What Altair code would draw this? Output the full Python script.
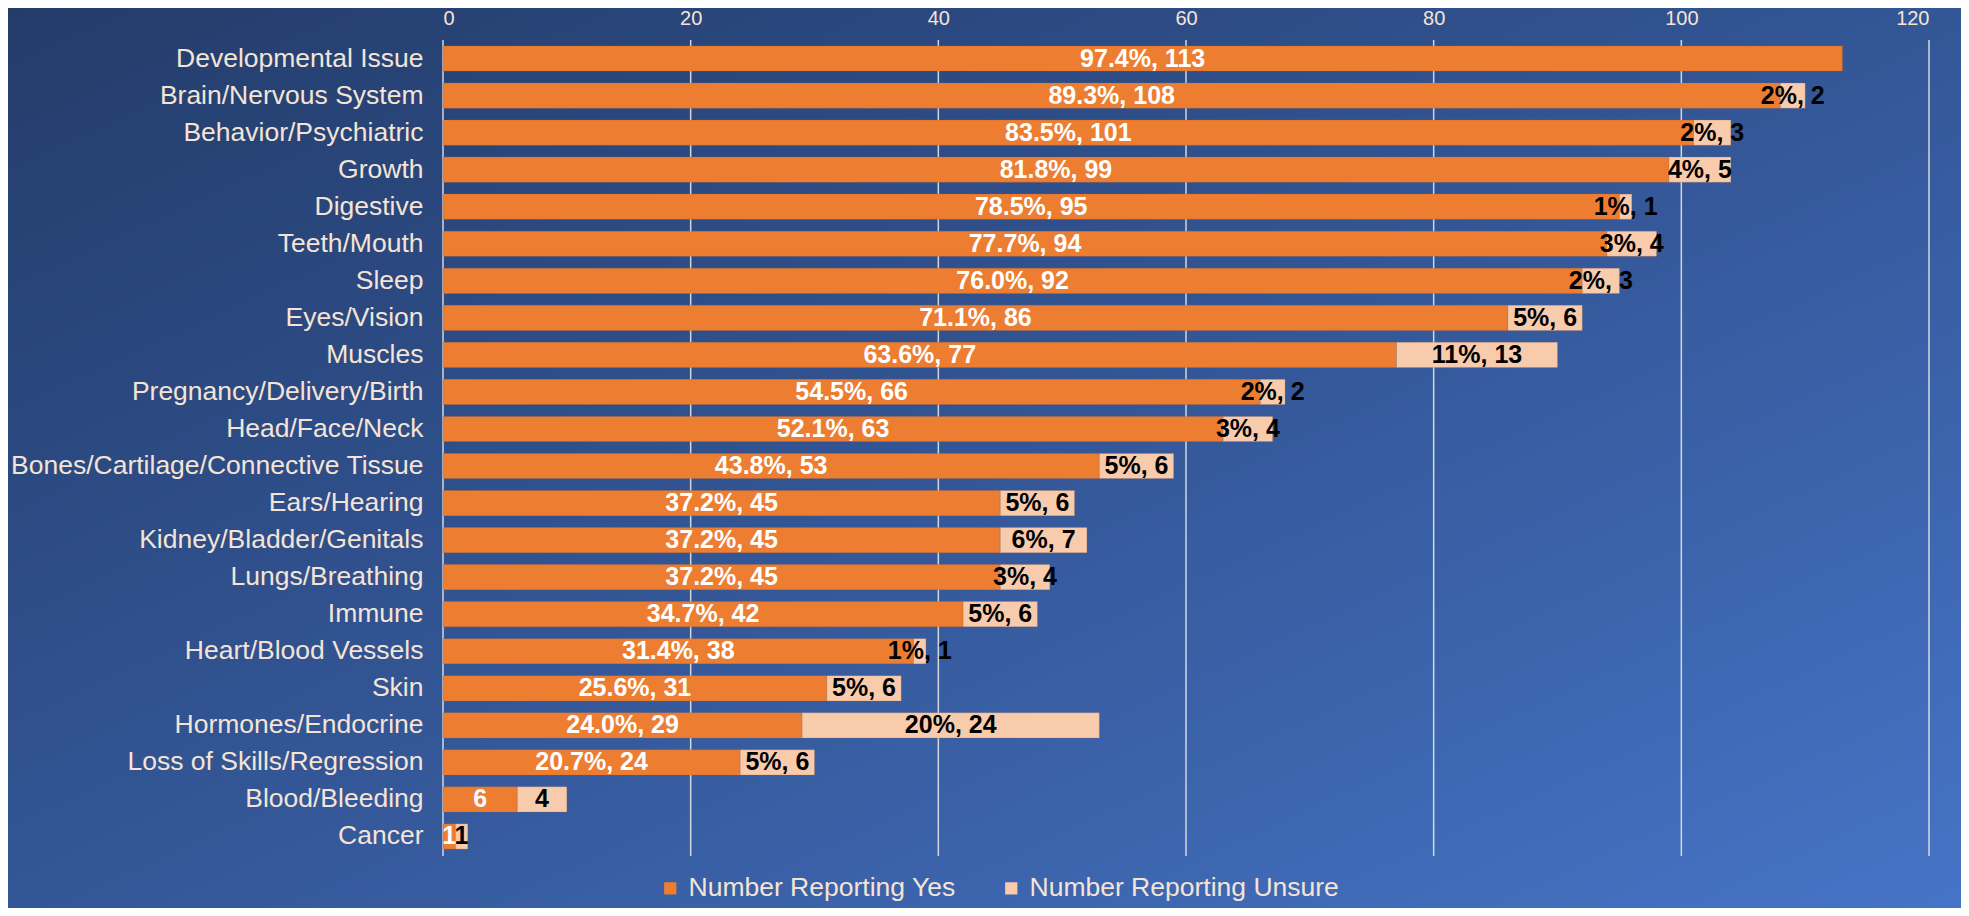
import altair as alt
import pandas as pd

categories = [
    "Developmental Issue", "Brain/Nervous System", "Behavior/Psychiatric", "Growth",
    "Digestive", "Teeth/Mouth", "Sleep", "Eyes/Vision", "Muscles",
    "Pregnancy/Delivery/Birth", "Head/Face/Neck", "Bones/Cartilage/Connective Tissue",
    "Ears/Hearing", "Kidney/Bladder/Genitals", "Lungs/Breathing", "Immune",
    "Heart/Blood Vessels", "Skin", "Hormones/Endocrine", "Loss of Skills/Regression",
    "Blood/Bleeding", "Cancer",
]
yes_values = [113, 108, 101, 99, 95, 94, 92, 86, 77, 66, 63, 53, 45, 45, 45, 42, 38, 31, 29, 24, 6, 1]
unsure_values = [0, 2, 3, 5, 1, 4, 3, 6, 13, 2, 4, 6, 6, 7, 4, 6, 1, 6, 24, 6, 4, 1]
yes_labels = [
    "97.4%, 113", "89.3%, 108", "83.5%, 101", "81.8%, 99", "78.5%, 95", "77.7%, 94",
    "76.0%, 92", "71.1%, 86", "63.6%, 77", "54.5%, 66", "52.1%, 63", "43.8%, 53",
    "37.2%, 45", "37.2%, 45", "37.2%, 45", "34.7%, 42", "31.4%, 38", "25.6%, 31",
    "24.0%, 29", "20.7%, 24", "6", "1",
]
unsure_labels = [
    "", "2%, 2", "2%, 3", "4%, 5", "1%, 1", "3%, 4", "2%, 3", "5%, 6", "11%, 13",
    "2%, 2", "3%, 4", "5%, 6", "5%, 6", "6%, 7", "3%, 4", "5%, 6", "1%, 1", "5%, 6",
    "20%, 24", "5%, 6", "4", "1",
]
series_names = ["Number Reporting Yes", "Number Reporting Unsure"]
series_colors = ["#ED7D31", "#F8CBAD"]
x_ticks = [0, 20, 40, 60, 80, 100, 120]

df = pd.DataFrame({
    "cat": categories,
    "yes": yes_values,
    "unsure": unsure_values,
    "ylab": yes_labels,
    "ulab": unsure_labels,
})
ticks_df = pd.DataFrame({"t": x_ticks})

PW, PH = 1486, 815
PAD = {"left": 435, "right": 32, "top": 32, "bottom": 53}
TXT = "#F5E4D6"
FONT = "Liberation Sans, Arial, sans-serif"

y_enc = alt.Y(
    "cat:N", sort=categories, title=None,
    scale=alt.Scale(paddingInner=0.32, paddingOuter=0.16),
    axis=alt.Axis(domain=False, ticks=False, labelFontSize=26.5, labelColor=TXT,
                  labelFont=FONT, labelPadding=20, labelLimit=500, zindex=2),
)
x_scale = alt.Scale(domain=[0, 120], nice=False)

bg = alt.Chart(alt.Data(values=[{"a": 1}])).mark_rect(
    color=alt.LinearGradient(
        gradient="linear", x1=0, y1=0, x2=1, y2=1,
        stops=[alt.GradientStop(color="#233c6a", offset=0),
               alt.GradientStop(color="#335696", offset=0.5),
               alt.GradientStop(color="#4674c6", offset=1)],
    )
).encode(
    x=alt.value(-PAD["left"]), x2=alt.value(PW + PAD["right"]),
    y=alt.value(-PAD["top"]), y2=alt.value(PH + PAD["bottom"]),
)

grid = alt.Chart(ticks_df).mark_rule(color="#e4e4e4", strokeWidth=1.5, opacity=0.9).encode(
    x=alt.X("t:Q", scale=x_scale),
    y=alt.value(0),
    y2=alt.value(PH + 1),
)

base = alt.Chart(df)

bars = base.transform_fold(
    ["yes", "unsure"], as_=["key", "value"]
).transform_calculate(
    series="datum.key == 'yes' ? 'Number Reporting Yes' : 'Number Reporting Unsure'",
    ord="datum.key == 'yes' ? 0 : 1",
).mark_bar(stroke="#b86a3a", strokeWidth=0.4, strokeOpacity=0.6).encode(
    y=y_enc,
    x=alt.X("value:Q", stack="zero", scale=x_scale, title=None,
            axis=alt.Axis(orient="top", values=x_ticks, domain=False, ticks=False,
                          labelFontSize=20, labelColor=TXT, labelFont=FONT,
                          labelPadding=12, grid=False, zindex=2)),
    color=alt.Color("series:N", title=None,
                    scale=alt.Scale(domain=series_names, range=series_colors),
                    legend=alt.Legend(orient="none", legendX=214, legendY=835,
                                      direction="horizontal", symbolType="square",
                                      symbolSize=150, symbolStrokeWidth=0,
                                      labelFontSize=26.5, labelColor=TXT, labelFont=FONT,
                                      labelOffset=5, columnPadding=42, labelLimit=600)),
    order=alt.Order("ord:Q"),
)

yes_text = base.transform_calculate(
    mid="datum.yes / 2"
).mark_text(fontSize=25, fontWeight="bold", color="white", font=FONT).encode(
    y=alt.Y("cat:N", sort=categories),
    x=alt.X("mid:Q", scale=x_scale),
    text="ylab:N",
)

unsure_text = base.transform_calculate(
    mid="datum.yes + datum.unsure / 2"
).mark_text(fontSize=25, fontWeight="bold", color="black", font=FONT).encode(
    y=alt.Y("cat:N", sort=categories),
    x=alt.X("mid:Q", scale=x_scale),
    text="ulab:N",
)

chart = alt.layer(bg, grid, bars, yes_text, unsure_text).properties(
    width=PW, height=PH,
    autosize=alt.AutoSizeParams(type="none"),
    padding=PAD,
    background="#30508c",
).configure_view(stroke=None)

chart.save("out.html", embed_options={"renderer": "svg", "actions": False})
